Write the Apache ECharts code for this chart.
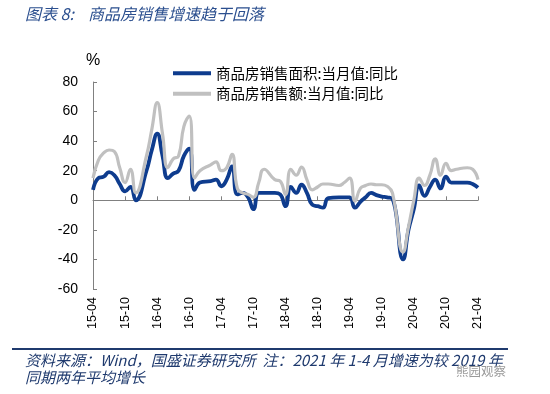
<!DOCTYPE html>
<html>
<head>
<meta charset="utf-8">
<script src="https://cdn.jsdelivr.net/npm/echarts@6/dist/echarts.min.js"></script>
<style>
html,body{margin:0;padding:0;background:#fff;}
#c{width:550px;height:394px;}
</style>
</head>
<body>
<div id="c"></div>
<script>
// Monthly categories 2015-04 .. 2021-04
const categories = [
  "15-04","15-05","15-06","15-07","15-08","15-09","15-10","15-11","15-12",
  "16-01","16-02","16-03","16-04","16-05","16-06","16-07","16-08","16-09","16-10","16-11","16-12",
  "17-01","17-02","17-03","17-04","17-05","17-06","17-07","17-08","17-09","17-10","17-11","17-12",
  "18-01","18-02","18-03","18-04","18-05","18-06","18-07","18-08","18-09","18-10","18-11","18-12",
  "19-01","19-02","19-03","19-04","19-05","19-06","19-07","19-08","19-09","19-10","19-11","19-12",
  "20-01","20-02","20-03","20-04","20-05","20-06","20-07","20-08","20-09","20-10","20-11","20-12",
  "21-01","21-02","21-03","21-04"
];
// 商品房销售面积:当月值:同比 (%)
const areaYoY = [
  7,15,16,19,17,11,6,9,0,
  null,20,34,45,30,15,18,20,30,35,7,12,
  null,13,14,9.5,14,23,4,5,2,-6,5,5,
  null,5,4,-4,9,5,10.5,5,-3,-4,-5,1.5,
  null,2,2,2,-5,-1,2,5,3.5,2.5,2,1,
  null,-40,-20,-6,10,3,9,14,8,16,12,12,
  null,12,11,8.5
];
// 商品房销售额:当月值:同比 (%)
const amountYoY = [
  15,27,32,34,33,22,12,21,5,
  null,30,48,66,45,22,28,30,50,57,15,20,
  null,24,26,20,22,31,8,5,4,2,12,21,
  null,14,13,4,21,17,22.5,14,7,9,11,11,
  null,10,12,15,-0.5,8,10,11,10.5,10.5,9.5,5,
  null,-35,-18,0,15,10,17,28,17,25,20,21,
  null,22,21,14
];
const seriesNames = ["商品房销售面积:当月值:同比","商品房销售额:当月值:同比"];
const yTicks = {min:-60, max:80, interval:20};

const chart = echarts.init(document.getElementById('c'), null, {renderer:'canvas'});
const navy = '#1F3A6E';
chart.setOption({
  animation:false,
  backgroundColor:'#fff',
  grid:{left:93, right:72, top:82, bottom:105},
  legend:{
    orient:'vertical', left:168, top:61, itemWidth:38, itemHeight:4, itemGap:6,
    icon:'rect',
    textStyle:{fontFamily:'Noto Sans CJK SC', fontSize:14.5, color:'#000'},
    data:seriesNames
  },
  xAxis:[{
    type:'category', data:categories, boundaryGap:false, position:'bottom',
    axisLine:{show:false, onZero:false}, axisTick:{show:false},
    axisLabel:{interval:5, rotate:90, margin:8, fontFamily:'Liberation Sans', fontSize:12.5, color:'#000'}
  },{
    type:'category', data:categories, boundaryGap:false, position:'bottom',
    axisLine:{show:true, onZero:true, lineStyle:{color:'#808080', width:1}},
    axisTick:{show:true, inside:true, interval:5, length:4, lineStyle:{color:'#808080'}},
    axisLabel:{show:false}
  }],
  yAxis:{
    type:'value', min:yTicks.min, max:yTicks.max, interval:yTicks.interval,
    axisLine:{show:true, lineStyle:{color:'#808080', width:1}},
    axisTick:{show:true, inside:true, length:4, lineStyle:{color:'#808080'}},
    splitLine:{show:false},
    axisLabel:{margin:15, fontFamily:'Liberation Sans', fontSize:14, color:'#000'}
  },
  series:[{
    name:seriesNames[0], type:'line', data:areaYoY, xAxisIndex:0,
    smooth:0.5, symbol:'none', connectNulls:true,
    lineStyle:{width:3.8, color:'#0E3C8E'}, itemStyle:{color:'#0E3C8E'}
  },{
    name:seriesNames[1], type:'line', data:amountYoY, xAxisIndex:0,
    smooth:0.5, symbol:'none', connectNulls:true,
    lineStyle:{width:3.2, color:'#C0C0C0'}, itemStyle:{color:'#C0C0C0'}
  }],
  graphic:[
    {type:'text', left:25, top:6, style:{text:'图表 8:', font:'italic 16px "Noto Sans CJK SC"', fill:'#2B4F8F'}},
    {type:'text', left:88, top:6, style:{text:'商品房销售增速趋于回落', font:'italic 16px "Noto Sans CJK SC"', fill:'#2B4F8F'}},
    {type:'text', left:86, top:53, style:{text:'%', font:'16px "Liberation Sans"', fill:'#000'}},
    {type:'rect', shape:{x:12, y:348, width:496, height:2}, style:{fill:navy}},
    {type:'text', left:25, top:353, style:{text:'资料来源：Wind，国盛证券研究所  注：2021 年 1-4 月增速为较 2019 年', font:'italic 15px "Noto Sans CJK SC"', fill:navy}},
    {type:'text', left:25, top:370, style:{text:'同期两年平均增长', font:'italic 15px "Noto Sans CJK SC"', fill:navy}},
    {type:'text', left:456, top:365, style:{text:'熊园观察', font:'12.5px "Noto Sans CJK SC"', fill:'#9A9A9A'}}
  ]
});
</script>
</body>
</html>
